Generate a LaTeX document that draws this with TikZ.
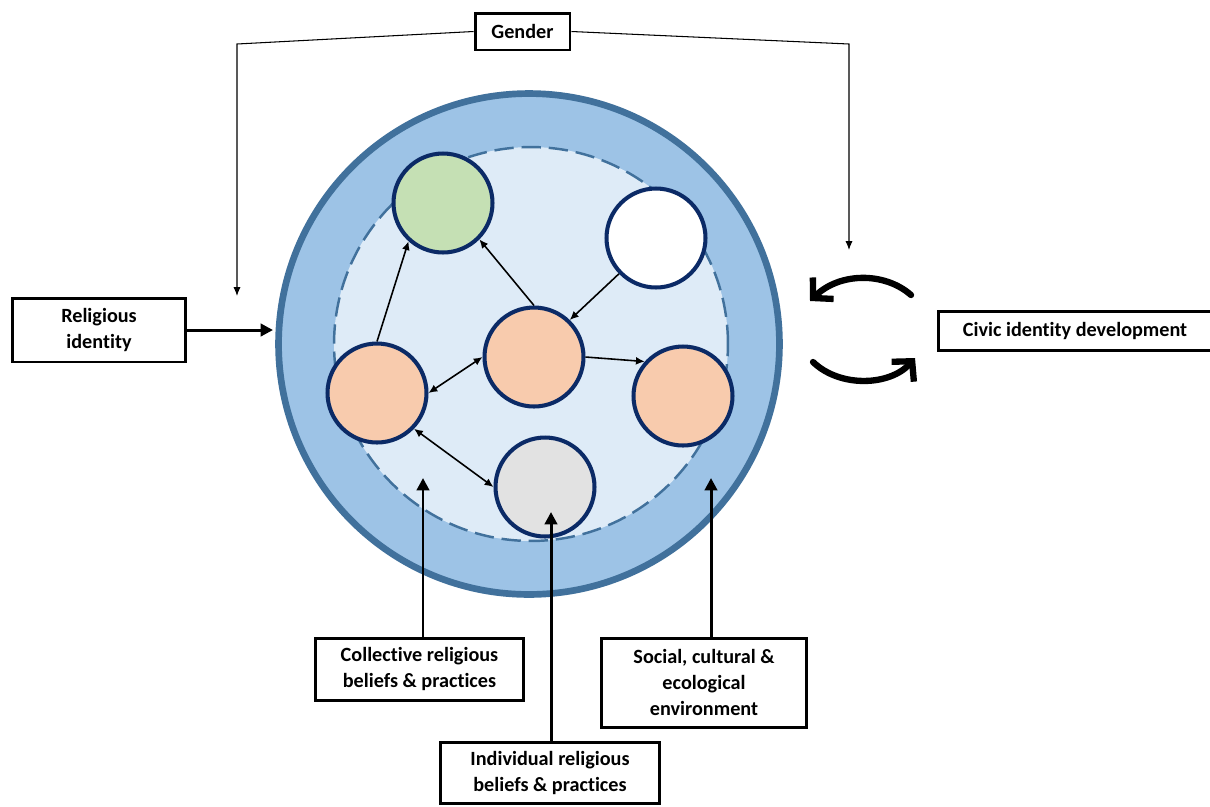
\documentclass[tikz,border=0pt]{standalone}
\usepackage{fontspec}
\setmainfont{Carlito}[Ligatures=NoCommon]
\usetikzlibrary{arrows.meta,positioning}

\definecolor{ringblue}{HTML}{9DC3E6}
\definecolor{ringedge}{HTML}{41719C}
\definecolor{innerblue}{HTML}{DEEBF7}
\definecolor{navy}{HTML}{0B2A66}
\definecolor{peach}{HTML}{F8CBAD}
\definecolor{sage}{HTML}{C5E0B4}
\definecolor{pale}{HTML}{E2E2E2}

\tikzset{
  factor/.style={draw, line width=1.7pt, align=center, inner sep=2pt,
    font=\bfseries\fontsize{11.5}{14.8}\selectfont},
  blob/.style={circle, draw=navy, line width=2.3pt, minimum size=1.98cm, inner sep=0pt},
  link/.style={-{Latex[length=5pt,width=4.5pt]}, line width=0.9pt},
  both/.style={{Latex[length=5pt,width=4.5pt]}-{Latex[length=5pt,width=4.5pt]}, line width=0.9pt},
  feed/.style={-{Triangle[length=7pt,width=7pt]}, line width=1.7pt},
  cycle/.style={-{Straight Barb[length=8pt,width=17pt]}, line width=3.6pt, line cap=round},
}

\begin{document}
\begin{tikzpicture}[x=0.02cm, y=-0.02cm]
  \useasboundingbox (0,0) rectangle (1210,806);

  % context ring and inner circle
  \node[circle, draw=ringedge, fill=ringblue, line width=3.8pt, minimum size=10.02cm] (ring) at (529,344) {};
  \node[circle, draw=ringedge, fill=innerblue, line width=1.4pt, dash pattern=on 11pt off 4.5pt,
        minimum size=7.88cm] (inner) at (531,344) {};

  % blobs
  \node[blob, fill=sage]  (green) at (443,203) {};
  \node[blob, fill=white] (white) at (656,238) {};
  \node[blob, fill=peach] (core)  at (534,357) {};
  \node[blob, fill=peach] (lp)    at (377,393) {};
  \node[blob, fill=peach] (rp)    at (683,396) {};
  \node[blob, fill=pale]  (gray)  at (545,487) {};

  \draw[link] (lp.north) to (green.228);
  \draw[link] (core.north) to (green.315);
  \draw[link] (white.224) to (core.46);
  \draw[both] (core.west) to (lp.east);
  \draw[link] (core.east) to (rp.138);
  \draw[both] (lp.316) to (gray.west);

  % outside factors
  \node[factor, minimum width=1.9cm, minimum height=0.74cm] (gender) at (522.5,31.5) {Gender};
  \node[factor, minimum width=3.48cm, minimum height=1.28cm] (relig) at (99,330) {Religious\\identity};
  \node[factor, minimum width=5.48cm, minimum height=0.78cm] (civic) at (1075,330.5) {Civic identity development};
  \node[factor, minimum width=4.18cm, minimum height=1.24cm] (coll) at (419.5,669) {Collective religious\\beliefs \& practices};
  \node[factor, minimum width=4.4cm, minimum height=1.22cm] (indiv) at (550,772.5) {Individual religious\\beliefs \& practices};
  \node[factor, minimum width=4.12cm, minimum height=1.78cm] (social) at (704,682.5) {Social, cultural \&\\ecological\\environment};

  \coordinate (gl) at (237,44);
  \coordinate (glTip) at (237,296);
  \coordinate (gr) at (849,44);
  \coordinate (grTip) at (849,250);
  \draw[-{Latex[length=5pt,width=4pt]}, line width=0.6pt] (gender.west) -- (gl) -- (glTip);
  \draw[-{Latex[length=5pt,width=4pt]}, line width=0.6pt] (gender.east) -- (gr) -- (grTip);

  \coordinate (relTip) at (273,330);
  \coordinate (collTip) at (423,478);
  \coordinate (indivTip) at (551,512);
  \coordinate (socialTip) at (711,478);
  \draw[feed] (relig.east) -- (relTip);
  \draw[feed] (collTip |- coll.north) -- (collTip);
  \draw[feed] (indivTip |- indiv.north) -- (indivTip);
  \draw[feed] (socialTip |- social.north) -- (socialTip);

  % feedback loop
  \coordinate (upA) at (911,295);
  \coordinate (upB) at (810,301);
  \coordinate (loA) at (813,362);
  \coordinate (loB) at (915,358);
  \draw[cycle] (upA) .. controls (885,272) and (840,272) .. (upB);
  \draw[cycle] (loA) .. controls (840,388) and (890,386) .. (loB);

\end{tikzpicture}
\end{document}
